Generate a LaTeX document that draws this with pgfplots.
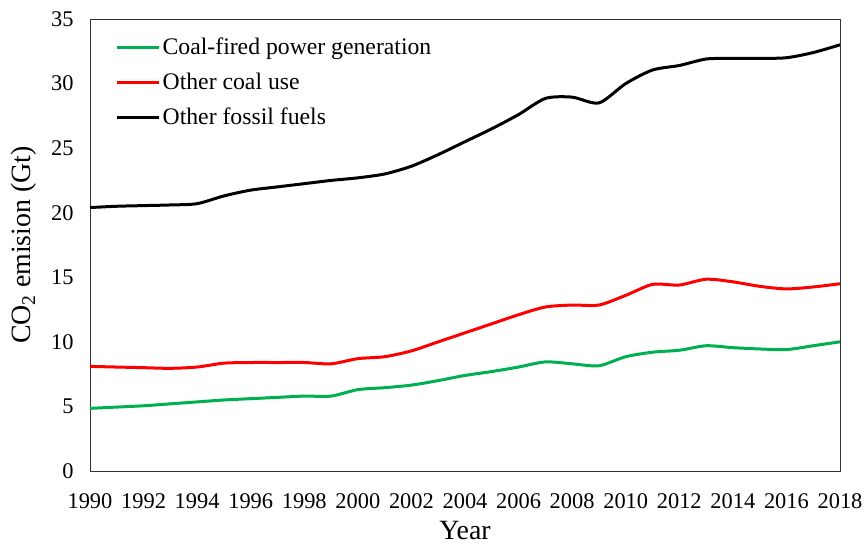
\documentclass[border=0pt]{standalone}
\usepackage{fontspec}
\setmainfont{Liberation Serif}
\usepackage{pgfplots}
\pgfplotsset{compat=1.18}
\definecolor{cgreen}{RGB}{0,176,80}
\definecolor{cred}{RGB}{255,0,0}
\begin{document}
\begin{tikzpicture}
\begin{axis}[
  name=ax,
  scale only axis,
  width=750bp, height=452bp,
  xmin=1990, xmax=2018, ymin=0, ymax=35,
  xtick={1990,1992,...,2018},
  ytick={0,5,...,35},
  major tick length=0pt,
  axis line style={draw=black!80, line width=0.8bp},
  /pgf/number format/assume math mode=true,
  /pgf/number format/1000 sep={},
  tick label style={font=\rmfamily\fontsize{22.5}{26}\selectfont},
  xticklabel style={yshift=-19bp},
  yticklabel style={xshift=-13bp},
  xlabel={Year},
  ylabel={CO\textsubscript{2} emision (Gt)},
  label style={font=\fontsize{28}{32}\selectfont, inner sep=0pt},
  xlabel style={at={(axis description cs:0.5,-0.11)}, anchor=north},
  ylabel style={at={(axis description cs:-0.071,0.5)}, anchor=south},
  legend style={draw=none, fill=none, at={(axis description cs:0.03,0.967)}, anchor=north west,
    font=\fontsize{23.8}{27}\selectfont, row sep=13bp},
  legend cell align=left,
  legend image code/.code={\draw[#1] (0bp,0bp) -- (42bp,0bp);},
  every axis plot/.append style={line width=3bp, smooth, tension=0.45},
]
\addplot[cgreen] coordinates {
(1990,4.85)(1991,4.95)(1992,5.05)(1993,5.2)(1994,5.35)(1995,5.5)(1996,5.6)(1997,5.7)(1998,5.8)(1999,5.8)
(2000,6.3)(2001,6.45)(2002,6.65)(2003,7.0)(2004,7.4)(2005,7.7)(2006,8.05)(2007,8.45)(2008,8.3)(2009,8.15)
(2010,8.85)(2011,9.2)(2012,9.35)(2013,9.7)(2014,9.55)(2015,9.45)(2016,9.4)(2017,9.7)(2018,10.0)};
\addlegendentry{Coal-fired power generation}
\addplot[cred] coordinates {
(1990,8.1)(1991,8.05)(1992,8.0)(1993,7.95)(1994,8.05)(1995,8.35)(1996,8.4)(1997,8.4)(1998,8.4)(1999,8.3)
(2000,8.7)(2001,8.85)(2002,9.3)(2003,10.0)(2004,10.7)(2005,11.4)(2006,12.1)(2007,12.7)(2008,12.85)(2009,12.85)
(2010,13.6)(2011,14.45)(2012,14.4)(2013,14.85)(2014,14.65)(2015,14.3)(2016,14.1)(2017,14.25)(2018,14.5)};
\addlegendentry{Other coal use}
\addplot[black] coordinates {
(1990,20.4)(1991,20.5)(1992,20.55)(1993,20.6)(1994,20.7)(1995,21.3)(1996,21.75)(1997,22.0)(1998,22.25)(1999,22.5)
(2000,22.7)(2001,23.0)(2002,23.6)(2003,24.5)(2004,25.5)(2005,26.5)(2006,27.6)(2007,28.85)(2008,28.95)(2009,28.5)
(2010,30.0)(2011,31.05)(2012,31.4)(2013,31.9)(2014,31.95)(2015,31.95)(2016,32.0)(2017,32.4)(2018,33.0)};
\addlegendentry{Other fossil fuels}
\end{axis}
\useasboundingbox ([shift={(-90bp,-76bp)}]ax.south west) rectangle ([shift={(27bp,19bp)}]ax.north east);
\end{tikzpicture}
\end{document}
